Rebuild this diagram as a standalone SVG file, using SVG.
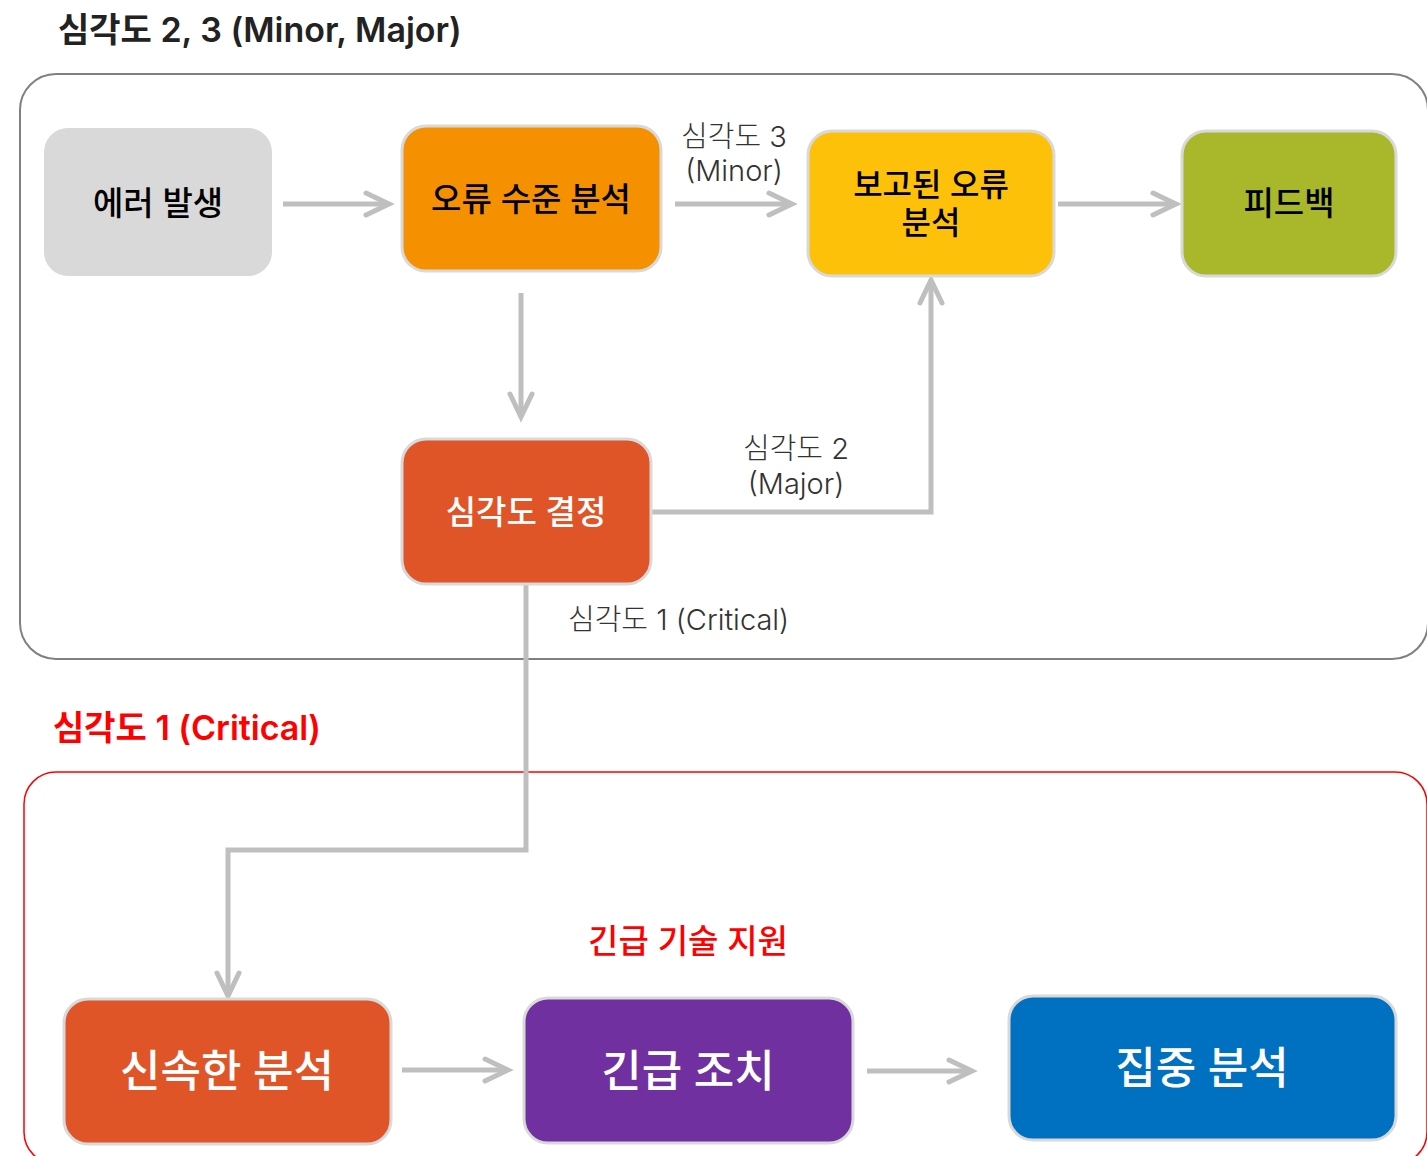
<svg xmlns="http://www.w3.org/2000/svg" width="1427" height="1156" viewBox="0 0 1427 1156">
<defs>
<marker id="ah" markerUnits="userSpaceOnUse" markerWidth="40" markerHeight="40" viewBox="-30 -20 40 40" refX="0" refY="0" orient="auto">
<path d="M -23 -11 L 0 0 L -23 11" fill="none" stroke="#bfbfbf" stroke-width="5" stroke-linecap="round" stroke-linejoin="miter"/>
</marker>
<style>
text{font-family:Inter,"Noto Sans CJK KR","Noto Sans",sans-serif;}
.node{stroke:#d9d9d9;stroke-width:3;}
.t{font-size:33px;text-anchor:middle;dominant-baseline:central;font-weight:500;}
.tb{font-size:44px;text-anchor:middle;dominant-baseline:central;font-weight:500;fill:#ffffff;}
.lbl{font-size:29px;fill:#333333;font-weight:300;}
.conn{fill:none;stroke:#bfbfbf;stroke-width:5;marker-end:url(#ah);}
</style>
</defs>
<rect width="1427" height="1156" fill="#ffffff"/>
<g id="frames">
<text x="58" y="42" font-size="34" font-weight="600" fill="#222222">심각도 2, 3 (Minor, Major)</text>
<rect x="20" y="74" width="1408" height="585" rx="36" fill="none" stroke="#808080" stroke-width="2"/>
<text x="53" y="740" font-size="34" font-weight="600" fill="#ff0000">심각도 1 (Critical)</text>
<rect x="24" y="772" width="1403" height="392" rx="32" fill="none" stroke="#ff0000" stroke-width="1.5"/>
<text x="688" y="941" font-size="33" font-weight="500" fill="#ff0000" text-anchor="middle" dominant-baseline="central">긴급 기술 지원</text>
</g>
<g id="connectors">
<line class="conn" x1="283" y1="204" x2="389" y2="204"/>
<line class="conn" x1="675" y1="204" x2="792" y2="204"/>
<line class="conn" x1="1058" y1="204" x2="1176" y2="204"/>
<line class="conn" x1="521" y1="293" x2="521" y2="417"/>
<polyline class="conn" points="651,512 931,512 931,280"/>
<polyline class="conn" points="526,584 526,850 228,850 228,996"/>
<line class="conn" x1="402" y1="1070" x2="508" y2="1070"/>
<line class="conn" x1="867" y1="1071" x2="972" y2="1071"/>
<text class="lbl" x="734" y="136" text-anchor="middle" dominant-baseline="central">심각도 3</text>
<text class="lbl" x="734" y="170" text-anchor="middle" dominant-baseline="central">(Minor)</text>
<text class="lbl" x="796" y="448" text-anchor="middle" dominant-baseline="central">심각도 2</text>
<text class="lbl" x="796" y="483" text-anchor="middle" dominant-baseline="central">(Major)</text>
<text class="lbl" x="568" y="619" dominant-baseline="central">심각도 1 (Critical)</text>
</g>
<g id="n-error">
<rect x="44" y="128" width="228" height="148" rx="24" fill="#d9d9d9"/>
<text class="t" x="158" y="203" fill="#000000">에러 발생</text>
</g>
<g id="n-level">
<rect class="node" x="402" y="126" width="259" height="145" rx="24" fill="#f59100"/>
<text class="t" x="531" y="199" fill="#000000">오류 수준 분석</text>
</g>
<g id="n-reported">
<rect class="node" x="808" y="131" width="246" height="145" rx="24" fill="#fec10a"/>
<text class="t" x="931" y="184" fill="#000000" style="font-size:32px">보고된 오류</text>
<text class="t" x="931" y="222" fill="#000000" style="font-size:32px">분석</text>
</g>
<g id="n-feedback">
<rect class="node" x="1182" y="131" width="214" height="145" rx="24" fill="#a8b82a"/>
<text class="t" x="1289" y="203" fill="#000000">피드백</text>
</g>
<g id="n-decide">
<rect class="node" x="402" y="439" width="249" height="145" rx="24" fill="#e05527"/>
<text class="t" x="526" y="512" fill="#ffffff">심각도 결정</text>
</g>
<g id="n-quick">
<rect class="node" x="64" y="999" width="327" height="145" rx="24" fill="#e05527"/>
<text class="tb" x="227" y="1071">신속한 분석</text>
</g>
<g id="n-urgent">
<rect class="node" x="524" y="998" width="329" height="145" rx="24" fill="#7030a0"/>
<text class="tb" x="688" y="1071">긴급 조치</text>
</g>
<g id="n-focus">
<rect class="node" x="1009" y="996" width="387" height="144" rx="24" fill="#0070c0"/>
<text class="tb" x="1202" y="1068">집중 분석</text>
</g>
</svg>
